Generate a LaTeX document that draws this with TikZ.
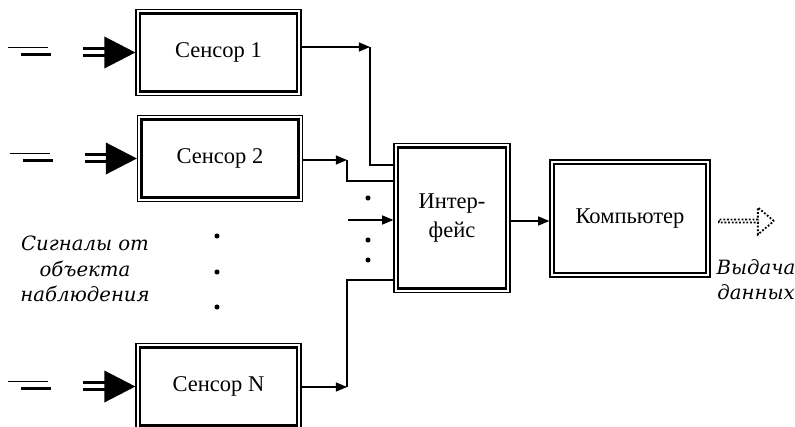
\documentclass[tikz,border=0pt]{standalone}
\usepackage{fontspec}
\setmainfont{Liberation Serif}
\newfontfamily\cursfont{DejaVu Serif}
\usetikzlibrary{arrows.meta,positioning,shapes.arrows}

\tikzset{
  blockbox/.style={draw, line width=0.9pt, inner sep=0pt, align=center,
    font=\fontsize{16}{21}\selectfont,
    path picture={\draw[line width=1.8pt]
      ([shift={(0.1cm,-0.1cm)}]path picture bounding box.north west) rectangle
      ([shift={(-0.1cm,0.1cm)}]path picture bounding box.south east);}},
  sensor/.style={blockbox, minimum width=4.125cm, minimum height=2.15cm},
  conn/.style={line width=0.8pt},
  arr/.style={conn, -{Triangle[length=8pt,width=6.5pt]}},
  sig/.style={align=center, font=\cursfont\fontsize{14}{18}\selectfont\itshape},
  outarrow/.style={draw, dash pattern=on 1.3pt off 1.3pt, line width=1.3pt, single arrow,
    single arrow tip angle=80, single arrow head extend=0.19cm,
    minimum height=1.375cm, minimum width=0.675cm, inner sep=0pt}
}

\begin{document}
\begin{tikzpicture}[x=0.025cm, y=-0.025cm]
  \useasboundingbox (0,0) rectangle (795,427);

  % Blocks
  \node[sensor] (s1) at (218.5,52.5) {Сенсор 1};
  \node[sensor] (s2) at (220,158.5) {Сенсор 2};
  \node[sensor] (sN) at (218.5,386.5) {Сенсор N};
  \node[blockbox, minimum width=2.9cm, minimum height=3.725cm] (iface) at (452,218) {Интер-\\фейс};
  \node[blockbox, minimum width=4cm, minimum height=2.925cm] (comp) at (630,218.5) {Компьютер};
  \node[outarrow, anchor=west] (out) at (718,221) {};

  % Texts
  \node[sig] (src) at (85,269) {Сигналы от\\объекта\\наблюдения};
  \node[sig] (res) at (756,280) {Выдача\\данных};

  % Inputs
  \foreach \s in {s1,s2,sN} {
    \draw[line width=1.4pt] ([shift={(-127,-5)}]\s.west) -- ([shift={(-87,-5)}]\s.west);
    \draw[line width=2.4pt] ([shift={(-114,2)}]\s.west) -- ([shift={(-84,2)}]\s.west);
    \draw[line width=1.6pt] ([shift={(-52,-4)}]\s.west) -- ([shift={(-30,-4)}]\s.west);
    \draw[line width=2.4pt] ([shift={(-52,3)}]\s.west) -- ([shift={(-30,3)}]\s.west);
    \fill ([shift={(-31,-16)}]\s.west) -- (\s.west) -- ([shift={(-31,16)}]\s.west) -- cycle;
  }

  % Connectors
  \coordinate (k1) at (370,47);
  \coordinate (k2) at (347,160);
  \coordinate (kN) at (347,387);
  \coordinate (m0) at (348,220);
  \draw[arr] (s1.east |- k1) -- (k1);
  \draw[conn] (k1) |- ([shift={(0,-53)}]iface.west);
  \draw[arr] (s2.east |- k2) -- (k2);
  \draw[conn] (k2) |- ([shift={(0,-37)}]iface.west);
  \draw[arr] (m0) -- (m0 -| iface.west);
  \draw[arr] (sN.east |- kN) -- (kN);
  \draw[conn] (kN) |- ([shift={(0,62)}]iface.west);
  \draw[arr] ([shift={(0,3)}]iface.east) -- ([shift={(0,3)}]iface.east -| comp.west);

  % Dots
  \foreach \y in {198,240,260} \fill (368,\y) circle (1.8pt);
  \foreach \y in {236,272,307} \fill (217,\y) circle (1.8pt);
\end{tikzpicture}
\end{document}
